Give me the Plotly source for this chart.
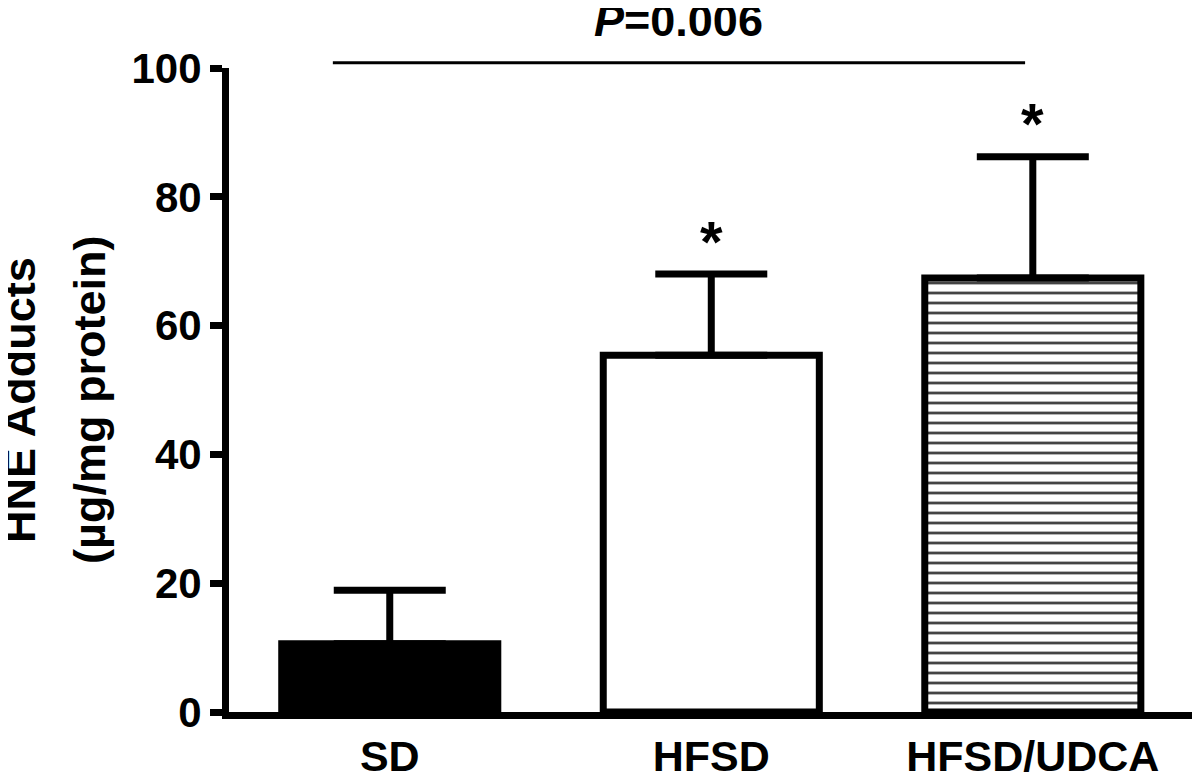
import plotly.graph_objects as go

categories = ["SD", "HFSD", "HFSD/UDCA"]
means = [10.6, 55.4, 67.4]
errors = [8.3, 12.6, 18.8]
y_ticks = [0, 20, 40, 60, 80, 100]
y_title_lines = ["HNE Adducts", "(µg/mg protein)"]
p_text = "<i>P</i>=0.006"
star_text = ["", "*", "*"]

FONT = "Liberation Sans, Arial, sans-serif"
x_pos = list(range(len(categories)))

fig = go.Figure()
fig.add_trace(go.Bar(
    x=x_pos,
    y=means,
    width=0.672,
    marker=dict(
        color=["black", "white", "white"],
        line=dict(color="black", width=7),
        pattern=dict(
            shape=["", "", "-"],
            fgcolor="black",
            fgopacity=1,
            size=10,
            solidity=0.28,
            fillmode="overlay",
        ),
    ),
    error_y=dict(
        type="data",
        array=errors,
        arrayminus=[0, 0, 0],
        symmetric=False,
        color="black",
        thickness=7,
        width=56,
    ),
    showlegend=False,
))

# significance stars
for i, (m, e, s) in enumerate(zip(means, errors, star_text)):
    if s:
        fig.add_annotation(
            x=x_pos[i], y=m + e, xref="x", yref="y",
            text="<b>" + s + "</b>", showarrow=False,
            font=dict(family=FONT, size=58, color="black"),
            yshift=33,
        )

# P value bracket
fig.add_shape(type="line", xref="x", yref="paper",
              x0=-0.177, x1=1.976, y0=1.008, y1=1.008,
              line=dict(color="black", width=3))
fig.add_annotation(
    x=(-0.177 + 1.976) / 2, y=1.073, xref="x", yref="paper",
    text="<b>" + p_text + "</b>", showarrow=False,
    font=dict(family=FONT, size=45, color="black"),
    yanchor="middle",
)

# y-axis title, two rotated lines
for xp, line in zip([-0.2152, -0.1432], y_title_lines):
    fig.add_annotation(
        x=xp, y=0.4845, xref="paper", yref="paper",
        text="<b>" + line + "</b>", showarrow=False, textangle=-90,
        font=dict(family=FONT, size=45, color="black"),
        xanchor="center", yanchor="middle",
    )

# the page adds an 8px offset at left/top, so the figure is sized to fit
fig.update_layout(
    width=1192, height=771,
    margin=dict(l=221, r=0, t=60, b=67, autoexpand=False),
    paper_bgcolor="white",
    plot_bgcolor="white",
    font=dict(family=FONT, color="black"),
    xaxis=dict(
        range=[-0.5, 2.52],
        automargin=False,
        tickmode="array",
        tickvals=x_pos,
        ticktext=["<b>%s</b>" % c for c in categories],
        tickfont=dict(family=FONT, size=43, color="black"),
        showline=True, linecolor="black", linewidth=7,
        ticks="", showgrid=False, zeroline=False,
        ticklabelstandoff=0,
    ),
    yaxis=dict(
        range=[0, 100],
        automargin=False,
        tickmode="array",
        tickvals=y_ticks,
        ticktext=["<b>%d</b>" % v for v in y_ticks],
        tickfont=dict(family=FONT, size=42, color="black"),
        showline=True, linecolor="black", linewidth=7,
        ticks="outside", ticklen=12, tickwidth=7, tickcolor="black",
        showgrid=False, zeroline=False,
    ),
)

fig.write_html("out.html")
